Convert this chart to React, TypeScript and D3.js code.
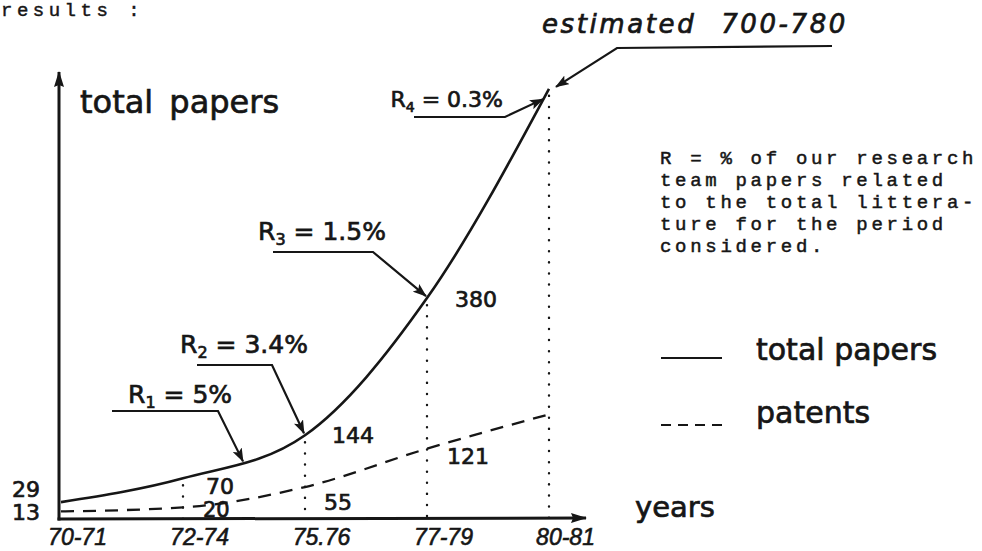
import React, { useEffect, useRef } from "react";
import * as d3 from "d3";

// ---------- data ----------
const periods = ["70-71", "72-74", "75-76", "77-79", "80-81"];
const periodLabels = ["70-71", "72-74", "75.76", "77-79", "80-81"];
const totalPapers = [29, 70, 144, 380, 740];
const patents = [13, 20, 55, 121, 180];
const totalValueLabels = ["29", "70", "144", "380", ""];
const patentValueLabels = ["13", "20", "55", "121", ""];
const ratioSubscripts = ["1", "2", "3", "4"];
const ratioValues = ["5%", "3.4%", "1.5%", "0.3%"];
const estimateLabel = "estimated 700-780";
const yTitle = "total papers";
const xTitle = "years";
const legendLabels = ["total papers", "patents"];
const headerText = "results :";
const noteLines = [
  "R = % of our research",
  "team papers related",
  "to the total littera-",
  "ture for the period",
  "considered.",
];

const W = 982;
const H = 551;
const INK = "#161616";
const HAND = "'DejaVu Sans', 'Noto Sans', sans-serif";
const HAND2 = "'Liberation Sans', 'DejaVu Sans', sans-serif";
const MONO = "'Liberation Mono', 'DejaVu Sans Mono', monospace";

function pointAtX(node: SVGPathElement, tx: number): [number, number] {
  const L = node.getTotalLength();
  let lo = 0;
  let hi = L;
  for (let k = 0; k < 40; k++) {
    const mid = (lo + hi) / 2;
    const p = node.getPointAtLength(mid);
    if (p.x < tx) lo = mid;
    else hi = mid;
  }
  const p = node.getPointAtLength((lo + hi) / 2);
  return [p.x, p.y];
}

export default function App() {
  const ref = useRef<SVGSVGElement | null>(null);

  useEffect(() => {
    const svg = d3.select(ref.current);
    svg.selectAll("*").remove();

    const x = d3.scalePoint<string>().domain(periods).range([61, 549]);
    const y = d3.scaleLinear().domain([0, 750]).range([519, 83]);
    const base = y(0);

    const defs = svg.append("defs");
    defs
      .append("marker")
      .attr("id", "ah")
      .attr("viewBox", "0 0 14 10")
      .attr("refX", 13)
      .attr("refY", 5)
      .attr("markerWidth", 14)
      .attr("markerHeight", 10)
      .attr("markerUnits", "userSpaceOnUse")
      .attr("orient", "auto")
      .append("path")
      .attr("d", "M0,0 L14,5 L0,10 L3,5 Z")
      .attr("fill", INK);
    defs
      .append("marker")
      .attr("id", "axh")
      .attr("viewBox", "0 0 16 10")
      .attr("refX", 15)
      .attr("refY", 5)
      .attr("markerWidth", 16)
      .attr("markerHeight", 10)
      .attr("markerUnits", "userSpaceOnUse")
      .attr("orient", "auto")
      .append("path")
      .attr("d", "M0,0 L16,5 L0,10 L2,5 Z")
      .attr("fill", INK);

    svg.append("rect").attr("width", W).attr("height", H).attr("fill", "#fff");

    const handText = (sel: any, weight = 0.7) =>
      sel.attr("font-family", HAND).attr("fill", INK).attr("stroke", INK).attr("stroke-width", weight);

    // header typewriter text
    svg
      .append("text")
      .attr("x", 1)
      .attr("y", 16)
      .attr("font-family", MONO)
      .attr("font-size", 19)
      .attr("letter-spacing", 4.5)
      .attr("fill", INK)
      .attr("stroke", INK)
      .attr("stroke-width", 0.45)
      .text(headerText);

    // axes (arrows)
    svg
      .append("line")
      .attr("x1", 59)
      .attr("y1", base + 1.5)
      .attr("x2", 59)
      .attr("y2", 72)
      .attr("stroke", INK)
      .attr("stroke-width", 3)
      .attr("marker-end", "url(#axh)");
    svg
      .append("line")
      .attr("x1", 57.5)
      .attr("y1", base)
      .attr("x2", 586)
      .attr("y2", base - 1)
      .attr("stroke", INK)
      .attr("stroke-width", 3)
      .attr("marker-end", "url(#axh)");

    const xAxis = d3
      .axisBottom(x)
      .tickSize(0)
      .tickFormat((_d, i) => periodLabels[i]);
    const gx = svg.append("g").attr("transform", `translate(0,${base})`).call(xAxis);
    gx.select(".domain").remove();
    gx.selectAll("text")
      .attr("y", 26)
      .attr("dy", 0)
      .attr("dx", 16)
      .attr("font-family", HAND2)
      .attr("font-style", "italic")
      .attr("font-size", 23)
      .attr("fill", INK)
      .attr("stroke", INK)
      .attr("stroke-width", 0.6);

    // dotted guides
    totalPapers.forEach((v, i) => {
      if (i === 0) return;
      svg
        .append("line")
        .attr("x1", x(periods[i])!)
        .attr("x2", x(periods[i])!)
        .attr("y1", y(v) + 7)
        .attr("y2", base)
        .attr("stroke", INK)
        .attr("stroke-width", 2.4)
        .attr("stroke-linecap", "round")
        .attr("stroke-dasharray", "0.1 11");
    });

    const line = d3
      .line<number>()
      .x((_d, i) => x(periods[i])!)
      .y((d) => y(d))
      .curve(d3.curveMonotoneX);

    const totalPath = svg
      .append("path")
      .attr("d", line(totalPapers))
      .attr("fill", "none")
      .attr("stroke", INK)
      .attr("stroke-width", 2.6);
    svg
      .append("path")
      .attr("d", line(patents))
      .attr("fill", "none")
      .attr("stroke", INK)
      .attr("stroke-width", 2.3)
      .attr("stroke-dasharray", "13 9");

    // value labels
    const valText = (s: string, lx: number, cy: number, size = 22) =>
      handText(
        svg
          .append("text")
          .attr("x", lx)
          .attr("y", cy)
          .attr("dy", "0.36em")
          .attr("font-size", size)
          .text(s)
      );

    valText(totalValueLabels[0], 12, y(totalPapers[0]) - 13);
    valText(patentValueLabels[0], 12, y(patents[0]) + 1);
    const tOff: [number, number][] = [
      [0, 0],
      [23, 8],
      [27, 0],
      [28, 1],
    ];
    const pOff: [number, number][] = [
      [0, 0],
      [20, 2],
      [19, 15],
      [20, 7],
    ];
    for (let i = 1; i < 4; i++) {
      valText(totalValueLabels[i], x(periods[i])! + tOff[i][0], y(totalPapers[i]) + tOff[i][1]);
      valText(
        patentValueLabels[i],
        x(periods[i])! + pOff[i][0],
        y(patents[i]) + pOff[i][1],
        i === 1 ? 21 : 22
      );
    }

    // ratio annotations
    const node = totalPath.node() as SVGPathElement;
    const pt = (i: number): [number, number] => [x(periods[i])!, y(totalPapers[i])];
    const anchors: [number, number][] = [
      pointAtX(node, (x(periods[1])! + x(periods[2])!) / 2),
      pt(2),
      pt(3),
      pointAtX(node, x(periods[4])! - 5),
    ];
    const rLayout = [
      { tx: 128, ty: 403, anchor: "start", size: 25, lx: 112, kx: 218, ky: 411 },
      { tx: 180, ty: 353, anchor: "start", size: 25, lx: 197, kx: 272, ky: 365 },
      { tx: 258, ty: 240, anchor: "start", size: 25, lx: 273, kx: 373, ky: 252 },
      { tx: 503, ty: 107, anchor: "end", size: 22, lx: 414, kx: 505, ky: 117 },
    ];
    rLayout.forEach((r, i) => {
      const t = handText(
        svg
          .append("text")
          .attr("x", r.tx)
          .attr("y", r.ty)
          .attr("text-anchor", r.anchor)
          .attr("font-size", r.size)
      );
      t.append("tspan").text("R");
      t.append("tspan").attr("font-size", r.size * 0.64).attr("dy", 5).text(ratioSubscripts[i]);
      t.append("tspan").attr("dy", -5).text(" = " + ratioValues[i]);
      const [ax, ay] = anchors[i];
      svg
        .append("path")
        .attr("d", `M${r.lx},${r.ky} L${r.kx},${r.ky} L${ax - 1},${ay - (i === 3 ? -1 : 2)}`)
        .attr("fill", "none")
        .attr("stroke", INK)
        .attr("stroke-width", 2.2)
        .attr("marker-end", "url(#ah)");
    });

    // estimate annotation
    const top = pt(4);
    handText(
      svg
        .append("text")
        .attr("x", 542)
        .attr("y", 33)
        .attr("font-style", "italic")
        .attr("font-size", 26)
        .attr("letter-spacing", 2.6)
        .attr("word-spacing", 14)
        .text(estimateLabel)
    );
    svg
      .append("path")
      .attr("d", `M832,46 L617,48 L${top[0] + 7},${top[1] - 2}`)
      .attr("fill", "none")
      .attr("stroke", INK)
      .attr("stroke-width", 2.2)
      .attr("marker-end", "url(#ah)");

    // axis titles
    handText(
      svg
        .append("text")
        .attr("x", 80)
        .attr("y", 113)
        .attr("font-size", 32)
        .attr("word-spacing", 6)
        .text(yTitle)
    );
    handText(svg.append("text").attr("x", 635).attr("y", 517).attr("font-size", 29).text(xTitle));

    // note
    const note = svg
      .append("text")
      .attr("font-family", MONO)
      .attr("font-size", 19)
      .attr("letter-spacing", 3.7)
      .attr("fill", INK)
      .attr("stroke", INK)
      .attr("stroke-width", 0.5);
    noteLines.forEach((s, i) => {
      note.append("tspan").attr("x", 660).attr("y", 164 + i * 22).text(s);
    });

    // legend
    const legY = [358, 425];
    const legBase = [360, 423];
    legendLabels.forEach((s, i) => {
      svg
        .append("line")
        .attr("x1", 661)
        .attr("x2", 722)
        .attr("y1", legY[i])
        .attr("y2", legY[i])
        .attr("stroke", INK)
        .attr("stroke-width", 2.2)
        .attr("stroke-dasharray", i === 0 ? null : "10 7");
      handText(
        svg.append("text").attr("x", 756).attr("y", legBase[i]).attr("font-size", 30).text(s)
      );
    });
  }, []);

  return (
    <svg
      ref={ref}
      width={W}
      height={H}
      style={{ position: "absolute", left: 0, top: 0, display: "block", background: "#fff" }}
    />
  );
}
